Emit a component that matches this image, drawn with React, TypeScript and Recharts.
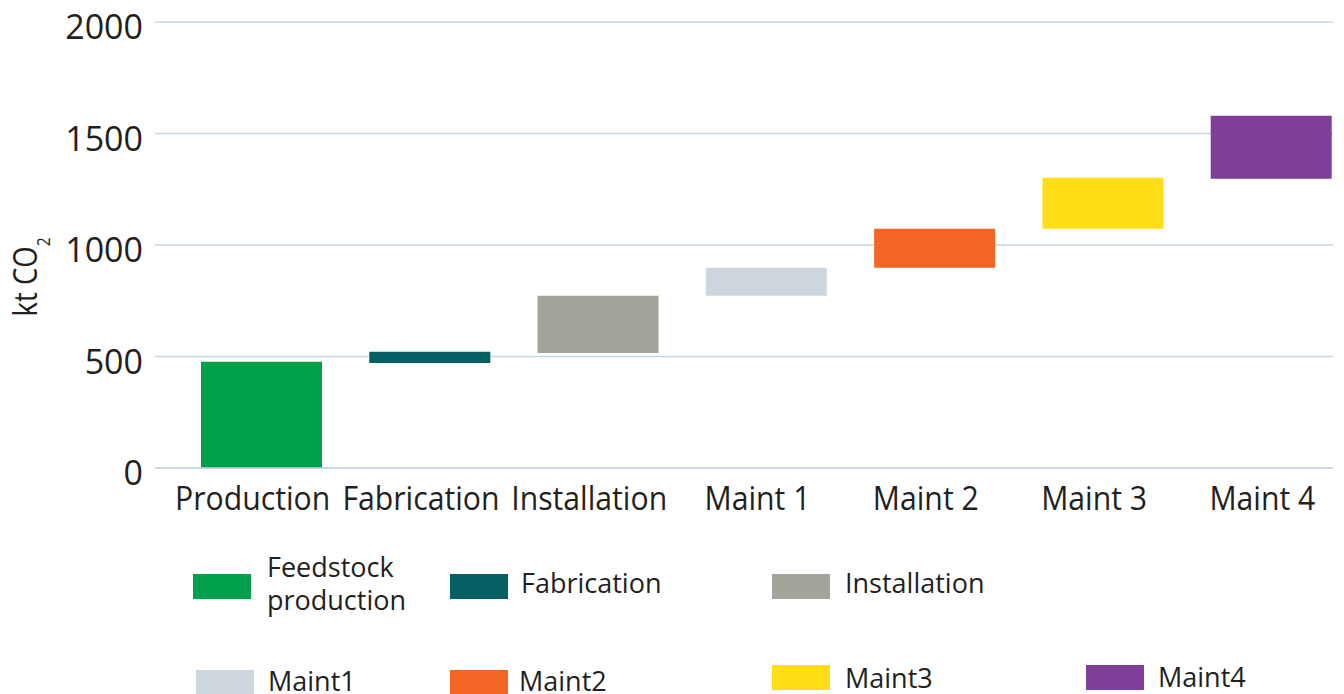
import React from 'react';
import { Bar, BarChart, CartesianGrid, Cell, XAxis, YAxis } from 'recharts';

// Waterfall: each stage is a floating bar from the running total to the next one.
const CATEGORIES = ['Production', 'Fabrication', 'Installation', 'Maint 1', 'Maint 2', 'Maint 3', 'Maint 4'];
const BAR_START = [0, 471, 516, 772, 898, 1073, 1297];
const BAR_END = [476, 521, 772, 898, 1073, 1302, 1580];
const COLORS = ['#00A04B', '#035F62', '#A4A49A', '#CED6DD', '#F26522', '#FFDE17', '#7F3F98'];
const LEGEND_LABELS = ['Feedstock\nproduction', 'Fabrication', 'Installation', 'Maint1', 'Maint2', 'Maint3', 'Maint4'];
const Y_TICKS = [0, 500, 1000, 1500, 2000];

const FONT = '"Open Sans", sans-serif';
const TEXT = '#231F20';
const GRID = '#C5D6E5';

// legend is laid out by hand (it is a loose grid in the original)
const LEGEND_POS = [
  { sx: 193, sy: 574, tx: 267, ty: 550, lh: 33 },
  { sx: 450, sy: 574, tx: 521, ty: 572.5, lh: 20 },
  { sx: 772, sy: 574, tx: 845, ty: 572.5, lh: 20 },
  { sx: 196, sy: 670, tx: 268, ty: 671, lh: 20 },
  { sx: 450, sy: 670, tx: 519, ty: 671, lh: 20 },
  { sx: 772, sy: 665, tx: 845, ty: 667.5, lh: 20 },
  { sx: 1086, sy: 665, tx: 1158, ty: 666.5, lh: 20 },
];

const data = CATEGORIES.map((name, i) => ({
  name,
  range: [BAR_START[i], BAR_END[i]],
  color: COLORS[i],
}));

// category labels sit a little left of the bar centres in the original
function XTick({ x, y, payload }: any) {
  return (
    <text
      transform={`translate(${x - 8.5},${y + 40}) scale(0.915,1)`}
      textAnchor="middle"
      fontSize={33}
      fontFamily={FONT}
      fill={TEXT}
    >
      {payload.value}
    </text>
  );
}

function YTick({ x, y, payload }: any) {
  return (
    <text x={x} y={y + 17} textAnchor="end" fontSize={34} fontFamily={FONT} fill={TEXT}>
      {payload.value}
    </text>
  );
}

function YLabel() {
  return (
    <text
      transform="translate(37,277) rotate(-90) scale(0.86,1)"
      textAnchor="middle"
      fontSize={32}
      fontFamily={FONT}
      fill={TEXT}
    >
      kt CO
      <tspan fontSize={18} dy={13}>
        2
      </tspan>
    </text>
  );
}

export default function App() {
  return (
    <div
      style={{
        position: 'absolute',
        left: 0,
        top: 0,
        width: 1344,
        height: 694,
        overflow: 'hidden',
        background: '#fff',
        fontFamily: FONT,
      }}
    >
      <BarChart
        width={1344}
        height={540}
        data={data}
        margin={{ top: 22, right: 11, bottom: 0, left: 0 }}
      >
        <CartesianGrid vertical={false} stroke={GRID} strokeWidth={1.5} />
        <XAxis
          dataKey="name"
          height={72}
          padding={{ left: 22, right: -22 }}
          tickLine={false}
          tickSize={0}
          axisLine={{ stroke: GRID, strokeWidth: 1.5 }}
          interval={0}
          tick={<XTick />}
        />
        <YAxis
          width={155}
          domain={[0, 2000]}
          ticks={Y_TICKS}
          tickLine={false}
          tickSize={0}
          tickMargin={12}
          axisLine={false}
          tick={<YTick />}
          label={<YLabel />}
        />
        <Bar dataKey="range" barSize={121} isAnimationActive={false}>
          {data.map((d) => (
            <Cell key={d.name} fill={d.color} />
          ))}
        </Bar>
      </BarChart>

      {LEGEND_LABELS.map((label, i) => {
        const p = LEGEND_POS[i];
        return (
          <React.Fragment key={label}>
            <div
              style={{
                position: 'absolute',
                left: p.sx,
                top: p.sy,
                width: 58,
                height: 25,
                background: COLORS[i],
              }}
            />
            <div
              style={{
                position: 'absolute',
                left: p.tx,
                top: p.ty,
                fontSize: 27,
                lineHeight: `${p.lh}px`,
                color: TEXT,
                whiteSpace: 'pre',
              }}
            >
              {label}
            </div>
          </React.Fragment>
        );
      })}
    </div>
  );
}
